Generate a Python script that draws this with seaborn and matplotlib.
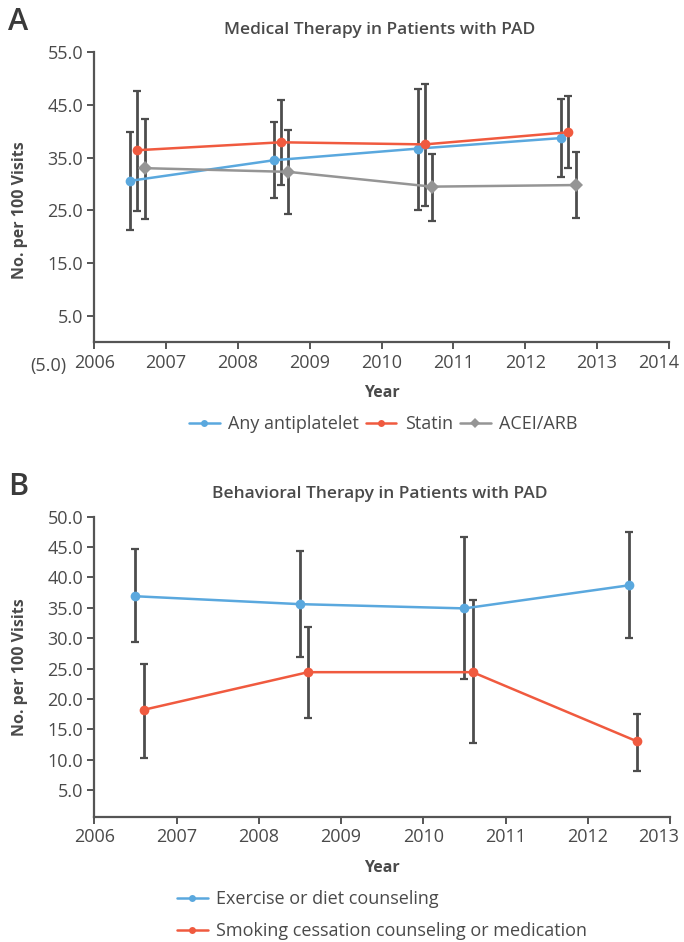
import numpy as np
import pandas as pd
import seaborn as sns
import matplotlib.pyplot as plt
from matplotlib.lines import Line2D
from matplotlib.ticker import FuncFormatter
from matplotlib.transforms import ScaledTranslation

# ---------------- datos ----------------
years = [2006.5, 2008.5, 2010.5, 2012.5]

# Panel A: terapia medica
antiplatelet = [30.6, 34.5, 36.7, 38.7]
antiplatelet_lo = [21.2, 27.3, 25.1, 31.4]
antiplatelet_hi = [39.9, 41.7, 48.0, 46.1]

statin = [36.4, 37.9, 37.5, 39.8]
statin_lo = [24.9, 29.8, 25.8, 33.0]
statin_hi = [47.6, 46.0, 49.0, 46.7]

acei = [33.0, 32.3, 29.5, 29.8]
acei_lo = [23.3, 24.4, 23.0, 23.6]
acei_hi = [42.3, 40.2, 35.6, 36.1]

# Panel B: terapia conductual
exercise = [36.9, 35.6, 34.9, 38.7]
exercise_lo = [29.3, 26.9, 23.3, 30.0]
exercise_hi = [44.6, 44.4, 46.7, 47.4]

smoking = [18.2, 24.4, 24.4, 13.0]
smoking_lo = [10.3, 16.8, 12.8, 8.2]
smoking_hi = [25.7, 31.8, 36.3, 17.5]

# ---------------- estilo ----------------
sns.set_theme(style="white")
plt.rcParams['font.family'] = ['Open Sans', 'DejaVu Sans']

TXT = "#4a4a4a"
BLUE = "#5aa8de"
RED = "#f05a3f"
GRAY = "#959595"
ERR = "#4d4d4d"

fig = plt.figure(figsize=(6.84, 9.42), dpi=100)
axA = fig.add_axes([0.1379, 0.6085, 0.8401, 0.3363])
axB = fig.add_axes([0.1379, 0.1330, 0.8416, 0.3185])


def dibujar(ax, series, offsets, colores, marcadores, tamanos):
    filas = []
    for (nombre, vals, lo, hi), off in zip(series, offsets):
        for yr, v in zip(years, vals):
            filas.append({"x": yr + off, "y": v, "serie": nombre})
    df = pd.DataFrame(filas)
    nombres = [s[0] for s in series]
    # barras de error primero (detras de las lineas)
    for (nombre, vals, lo, hi), off in zip(series, offsets):
        xs = np.array(years) + off
        v = np.array(vals)
        err = [v - np.array(lo), np.array(hi) - v]
        ax.errorbar(xs, v, yerr=err, fmt="none", ecolor=ERR, elinewidth=2.0,
                    capsize=3.2, capthick=1.6, zorder=1)
    sns.lineplot(data=df, x="x", y="y", hue="serie", hue_order=nombres,
                 palette=dict(zip(nombres, colores)), style="serie",
                 style_order=nombres, markers=dict(zip(nombres, marcadores)),
                 dashes=False, linewidth=1.8, legend=False, ax=ax,
                 markeredgewidth=0, zorder=3)
    for ln, ms in zip(ax.get_lines()[-len(series):], tamanos):
        ln.set_markersize(ms)
    return df


# ---------------- Panel A ----------------
series_a = [("Any antiplatelet", antiplatelet, antiplatelet_lo, antiplatelet_hi),
            ("Statin", statin, statin_lo, statin_hi),
            ("ACEI/ARB", acei, acei_lo, acei_hi)]
dibujar(axA, series_a, [0.0, 0.1, 0.2], [BLUE, RED, GRAY], ["o", "o", "D"], [7, 7, 7.5])

axA.set_xlim(2006, 2014)
axA.set_ylim(-5, 55)
axA.set_xticks(range(2006, 2015))
axA.set_yticks(np.arange(-5, 56, 10))
axA.yaxis.set_major_formatter(FuncFormatter(
    lambda v, p: f"({abs(v):.1f})" if v < 0 else f"{v:.1f}"))
axA.spines['bottom'].set_position(('data', 0))
axA.spines['left'].set_bounds(0, 55)

# ---------------- Panel B ----------------
series_b = [("Exercise or diet counseling", exercise, exercise_lo, exercise_hi),
            ("Smoking cessation counseling or medication", smoking, smoking_lo, smoking_hi)]
dibujar(axB, series_b, [0.0, 0.1], [BLUE, RED], ["o", "o"], [7, 7])

axB.set_xlim(2006, 2013)
axB.set_ylim(0.6, 50)
axB.set_xticks(range(2006, 2014))
axB.set_yticks(np.arange(5, 51, 5))
axB.yaxis.set_major_formatter(FuncFormatter(lambda v, p: f"{v:.1f}"))

for ax in (axA, axB):
    sns.despine(ax=ax)
    for s in ("left", "bottom"):
        ax.spines[s].set_color("#555555")
        ax.spines[s].set_linewidth(1.6)
    ax.tick_params(axis="both", which="both", direction="out", length=5,
                   width=1.4, color="#555555", labelsize=13, labelcolor=TXT,
                   left=True, bottom=True, pad=3)
    ax.set_xlabel("Year", fontsize=11.5, fontweight="bold", color=TXT, labelpad=10)
    ax.set_ylabel("No. per 100 Visits", fontsize=11.5, fontweight="bold", color=TXT)
    ax.xaxis.set_major_formatter(FuncFormatter(lambda v, p: f"{int(v)}"))


def mover(label, dx, dy):
    label.set_transform(label.get_transform() +
                        ScaledTranslation(dx / 100, dy / 100, fig.dpi_scale_trans))


# sin marca de tick en (5.0), etiqueta desplazada como en el original
t0 = axA.yaxis.get_major_ticks()[0]
t0.tick1line.set_visible(False)
mover(t0.label1, -17, 5)
# ultima etiqueta del eje x metida dentro de la figura
mover(axA.xaxis.get_major_ticks()[-1].label1, -10, 0)
mover(axB.xaxis.get_major_ticks()[-1].label1, -11, 0)

axA.yaxis.set_label_coords(-0.115, 0.5)
axB.yaxis.set_label_coords(-0.115, 0.5)

# titulos y letras de panel
fig.text(0.555, 0.968, "Medical Therapy in Patients with PAD", ha="center",
         va="center", fontsize=12.5, fontweight="semibold", color=TXT)
fig.text(0.555, 0.476, "Behavioral Therapy in Patients with PAD", ha="center",
         va="center", fontsize=12.5, fontweight="semibold", color=TXT)
fig.text(0.012, 0.977, "A", fontsize=22, fontweight="semibold", color="#3a3a3a", va="center")
fig.text(0.012, 0.483, "B", fontsize=22, fontweight="semibold", color="#3a3a3a", va="center")


# leyendas
def handle(color, marker):
    return Line2D([], [], color=color, lw=1.8, marker=marker, markersize=5,
                  markeredgewidth=0)


fig.legend([handle(BLUE, "o"), handle(RED, "o"), handle(GRAY, "D")],
           [s[0] for s in series_a], loc="center",
           bbox_to_anchor=(0.56, 0.55), ncol=3, frameon=False,
           fontsize=13, handlelength=1.7, handletextpad=0.45,
           columnspacing=0.4, labelcolor=TXT)
fig.legend([handle(BLUE, "o"), handle(RED, "o")],
           [s[0] for s in series_b], loc="upper left",
           bbox_to_anchor=(0.248, 0.063), ncol=1, frameon=False,
           fontsize=13, handlelength=1.7, handletextpad=0.45,
           labelspacing=0.8, labelcolor=TXT, borderaxespad=0)

plt.savefig("out.png", dpi=100)
plt.close()
